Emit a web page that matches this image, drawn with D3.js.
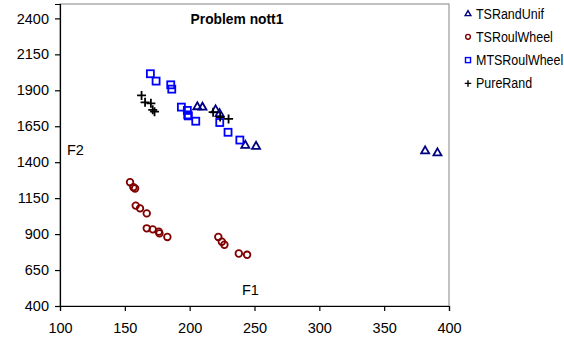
<!DOCTYPE html>
<html><head><meta charset="utf-8">
<script src="https://cdn.jsdelivr.net/npm/d3@7"></script>
<style>body{margin:0;background:#fff}svg{display:block}text{font-family:Arial,"Liberation Sans",sans-serif}</style>
</head><body><svg id="c" width="564" height="344"></svg>
<script>
const title = "Problem nott1";
const xTicks = [100,150,200,250,300,350,400];
const yTicks = [400,650,900,1150,1400,1650,1900,2150,2400];
const seriesNames = ["TSRandUnif","TSRoulWheel","MTSRoulWheel","PureRand"];
const tsRandUnif = [[205.9,1789],[209.9,1786],[220.0,1767],[223.1,1741],[242.9,1521],[251.2,1514],[381.6,1482],[391.1,1468]];
const tsRoulWheel = [[154.0,1261],[156.6,1226],[157.9,1217],[158.4,1098],[161.7,1079],[166.9,1044],[166.9,940],[171.5,933],[176.2,917],[176.7,905],[182.8,880],[222.1,880],[224.8,847],[226.8,826],[237.9,765],[244.3,756]];
const mtsRoulWheel = [[169.7,2015],[174.1,1964],[185.4,1938],[186.2,1908],[193.6,1783],[198.2,1760],[198.5,1729],[199.0,1722],[204.7,1685],[223.2,1676],[229.6,1608],[238.7,1554]];
const pureRand = [[162.9,1864],[165.6,1816],[170.1,1809],[171.5,1764],[172.9,1751],[218.1,1748],[223.5,1714],[230.0,1701]];

const svg = d3.select("#c");
const L=60, R=449, T=4, B=306;
const x = d3.scaleLinear().domain([100,400]).range([L,R]);
const y = d3.scaleLinear().domain([400,2500]).range([B,T]);

svg.append("rect").attr("x",L).attr("y",T).attr("width",R-L).attr("height",B-T)
  .attr("fill","none").attr("stroke","#999").attr("stroke-width",1.2);

const xa = svg.append("g").attr("transform",`translate(0,${B})`)
  .call(d3.axisBottom(x).tickValues(xTicks).tickSize(5).tickPadding(12).tickFormat(d3.format("d")));
const ya = svg.append("g").attr("transform",`translate(${L},0)`)
  .call(d3.axisLeft(y).tickValues(yTicks).tickSize(5).tickPadding(6).tickFormat(d3.format("d")));
[xa,ya].forEach(a=>{
  a.selectAll("path,line").attr("stroke","#000").attr("stroke-width",1.2);
  a.selectAll("text").attr("font-size",14.5).attr("fill","#000").attr("font-family","Arial, 'Liberation Sans', sans-serif");
});

svg.append("text").attr("x",237).attr("y",24).attr("text-anchor","middle")
  .attr("font-size",13.8).attr("font-weight","bold").text(title);
svg.append("text").attr("x",67).attr("y",155).attr("font-size",14.5).text("F2");
svg.append("text").attr("x",242).attr("y",295).attr("font-size",14.5).text("F1");

const mk = {
  TSRandUnif: (g,cx,cy,s)=>g.append("path").attr("d",`M${cx},${cy-4*s}L${cx+4*s},${cy+3*s}L${cx-4*s},${cy+3*s}Z`).attr("fill","none").attr("stroke","#000080"),
  TSRoulWheel: (g,cx,cy,s)=>g.append("circle").attr("cx",cx).attr("cy",cy).attr("r",3.3*s).attr("fill","none").attr("stroke","#800000"),
  MTSRoulWheel: (g,cx,cy,s)=>g.append("rect").attr("x",cx-3.5*s).attr("y",cy-3.5*s).attr("width",7*s).attr("height",7*s).attr("fill","none").attr("stroke","#0000ff"),
  PureRand: (g,cx,cy,s)=>g.append("path").attr("d",`M${cx-4.5*s},${cy}H${cx+4.5*s}M${cx},${cy-4.5*s}V${cy+4.5*s}`).attr("stroke","#000")
};
const data = [tsRandUnif, tsRoulWheel, mtsRoulWheel, pureRand];
const pg = svg.append("g");
seriesNames.forEach((n,i)=>{
  const g = pg.append("g");
  data[i].forEach(d=>mk[n](g, x(d[0]), y(d[1]), 1).attr("stroke-width",1.8));
});

const lg = svg.append("g");
seriesNames.forEach((n,i)=>{
  const cy = 13.5 + i*23.3;
  mk[n](lg, 468, cy, 0.72).attr("stroke-width",1.4);
  lg.append("text").attr("transform",`translate(476,${cy+5}) scale(0.89,1)`)
    .attr("font-size",14).text(n);
});
</script></body></html>
